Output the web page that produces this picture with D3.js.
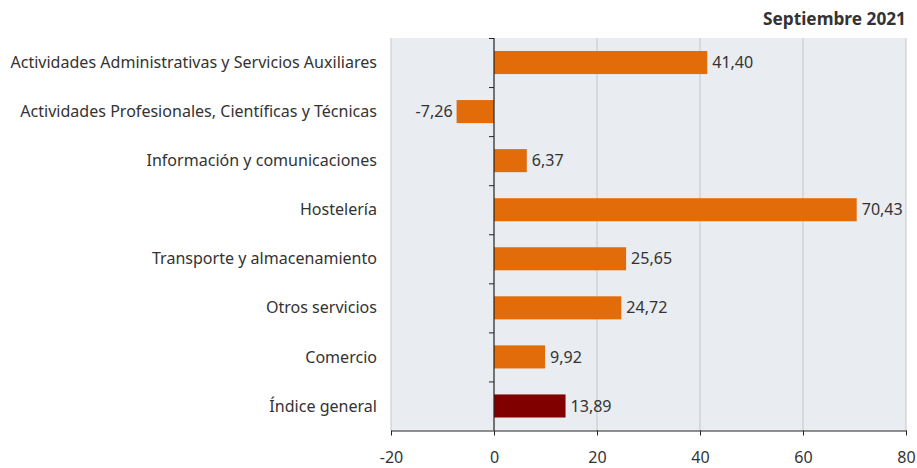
<!DOCTYPE html>
<html><head><meta charset="utf-8">
<script src="https://cdn.jsdelivr.net/npm/d3@7"></script>
<style>
body{margin:0;background:#fff;}
text{font-family:"Noto Sans", "DejaVu Sans", sans-serif;fill:#333;}
</style></head>
<body><svg id="c" width="917" height="468"></svg>
<script>
const categories = ["Actividades Administrativas y Servicios Auxiliares","Actividades Profesionales, Científicas y Técnicas","Información y comunicaciones","Hostelería","Transporte y almacenamiento","Otros servicios","Comercio","Índice general"];
const values = [41.40,-7.26,6.37,70.43,25.65,24.72,9.92,13.89];
const highlight = [false,false,false,false,false,false,false,true];
const xTicks = [-20,0,20,40,60,80];
const title = "Septiembre 2021";

const svg = d3.select("#c");
const L=391, R=906, T=38, B=430.5;
const x = d3.scaleLinear().domain([-20,80]).range([L,R]);
const y = d3.scaleBand().domain(categories).range([T,B]).paddingInner(0.53).paddingOuter(0.265);
const yb = d3.scaleLinear().domain([0,categories.length]).range([T,B]);
const fmt = v => d3.format(".2f")(v).replace(".",",").replace("\u2212","-");

svg.append("rect").attr("x",L).attr("y",T).attr("width",R-L).attr("height",B-T).attr("fill","#e9ecf0");
svg.append("g").selectAll("line").data(xTicks.filter(d=>d!==0)).join("line")
  .attr("x1",d=>x(d)).attr("x2",d=>x(d)).attr("y1",T).attr("y2",B)
  .attr("stroke","#c4c6c9").attr("stroke-width",1);

// bars
svg.append("g").selectAll("rect").data(values).join("rect")
  .attr("x",d=>x(Math.min(0,d))).attr("width",d=>Math.abs(x(d)-x(0)))
  .attr("y",(d,i)=>y(categories[i])).attr("height",y.bandwidth())
  .attr("fill",(d,i)=>highlight[i]?"#800000":"#e36c0a");

// measure base font
const probe = svg.append("text").attr("font-size",14).text(categories[0]);
const k = 367/probe.node().getComputedTextLength();
probe.remove();
const fs = 14*k;

// value labels
svg.append("g").selectAll("text").data(values).join("text")
  .attr("x",d=>d>=0?x(d)+5:x(d)-4)
  .attr("y",(d,i)=>y(categories[i])+y.bandwidth()/2)
  .attr("dy","0.35em").attr("text-anchor",d=>d>=0?"start":"end")
  .attr("font-size",fs)
  .text(fmt);

// zero axis
svg.append("line").attr("x1",x(0)).attr("x2",x(0)).attr("y1",T).attr("y2",B).attr("stroke","#222").attr("stroke-width",1.2);
svg.append("g").selectAll("line").data(d3.range(categories.length)).join("line")
  .attr("x1",x(0)-5).attr("x2",x(0)).attr("y1",d=>yb(d)+0.5).attr("y2",d=>yb(d)+0.5)
  .attr("stroke","#222");

// category labels
svg.append("g").selectAll("text").data(categories).join("text")
  .attr("x",377).attr("y",d=>y(d)+y.bandwidth()/2).attr("dy","0.35em")
  .attr("text-anchor","end").attr("font-size",fs).text(d=>d);

// x axis
const ax = svg.append("g").attr("transform",`translate(0,${B})`)
  .call(d3.axisBottom(x).tickValues(xTicks).tickSize(5).tickSizeOuter(0).tickPadding(16).tickFormat(d=>String(d)));
ax.select(".domain").attr("stroke","#222");
ax.selectAll(".tick line").attr("stroke","#222");
ax.selectAll(".tick text").attr("font-size",fs).attr("fill","#333").style("font-family","'Noto Sans', sans-serif");

const t = svg.append("text").attr("x",906).attr("y",25).attr("text-anchor","end")
  .attr("font-size",14).attr("font-weight","bold").attr("fill","#1a1a1a").text(title);
const kt = 143/t.node().getComputedTextLength();
t.attr("font-size",14*kt);
</script></body></html>
